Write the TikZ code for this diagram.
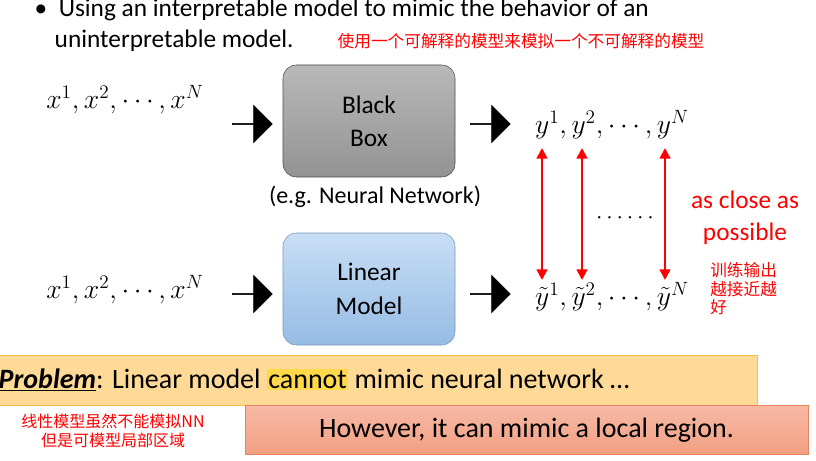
\documentclass[tikz,border=0pt]{standalone}
\usepackage{fontspec}
\setmainfont{Carlito}
\newfontfamily\cjk{Noto Sans CJK SC}
\usetikzlibrary{arrows.meta,shapes.arrows}
\definecolor{redt}{HTML}{FF0000}
\definecolor{probfill}{RGB}{255,218,150}
\definecolor{probdraw}{RGB}{250,190,70}
\definecolor{hl}{RGB}{255,217,74}
\definecolor{hwdraw}{RGB}{232,130,95}
\definecolor{hwtop}{RGB}{246,185,165}
\definecolor{hwbot}{RGB}{242,160,130}
\definecolor{lmtop}{RGB}{200,222,245}
\definecolor{lmbot}{RGB}{150,188,228}
\definecolor{lmdraw}{RGB}{120,150,190}
\begin{document}
\begin{tikzpicture}[x=0.75pt,y=-0.75pt,
  fat/.style={single arrow,fill=black,draw=black,minimum width=28pt,single arrow head extend=5pt,minimum height=30pt,inner sep=0pt},
  box/.style={rounded corners=10pt,minimum width=129pt,minimum height=84pt,align=center,font=\fontsize{19}{25}\selectfont},
  dbl/.style={red,line width=1.8pt,{Triangle[length=8pt,width=8pt]}-{Triangle[length=8pt,width=8pt]}},
  mt/.style={font=\fontsize{20}{24}\selectfont}]
\useasboundingbox (0,0) rectangle (816,460);
\node[anchor=west,font=\fontsize{19}{22}\selectfont] (b1) at (30,10) {\textbullet\ \ Using an interpretable model to mimic the behavior of an};
\node[anchor=west,font=\fontsize{19}{22}\selectfont] (b2) at (50,41) {uninterpretable model.};
\node[anchor=west,text=redt,font=\cjk\fontsize{12.5}{14}\selectfont] (b3) at (333,41) {使用一个可解释的模型来模拟一个不可解释的模型};
% top row
\node[mt] (x1) at (125,100) {$x^1,x^2,\cdots,x^N$};
\node[fat] (a1) at (252,124) {};
\node[box,draw=black!70,top color=gray!55,bottom color=gray!85] (bb) at (369,121) {Black\\Box};
\node[fat] (a2) at (490,124) {};
\node[mt] (y1) at (612,125) {$y^1,y^2,\cdots,y^N$};
\node[font=\fontsize{18}{22}\selectfont] (eg) at (375,197) {(e.g. Neural Network)};
% bottom row
\node[mt] (x2) at (125,290) {$x^1,x^2,\cdots,x^N$};
\node[fat] (a3) at (252,294) {};
\node[box,draw=lmdraw,top color=lmtop,bottom color=lmbot] (lm) at (369,289) {Linear\\Model};
\node[fat] (a4) at (490,294) {};
\node[mt] (y2) at (612,297) {$\tilde y^1,\tilde y^2,\cdots,\tilde y^N$};
\coordinate (t1) at (542,148); \coordinate (s1) at (542,280);
\coordinate (t2) at (582,148); \coordinate (s2) at (582,280);
\coordinate (t3) at (665,148); \coordinate (s3) at (665,280);
\draw[dbl] (t1) -- (s1); \draw[dbl] (t2) -- (s2); \draw[dbl] (t3) -- (s3);
\node[font=\fontsize{16}{18}\selectfont] (dots) at (625,218) {$\cdots\cdots$};
\node[text=redt,align=center,font=\fontsize{19}{24}\selectfont] (close) at (745,218) {as close as\\possible};
\node[text=redt,align=left,anchor=north west,inner sep=0pt,font=\cjk\fontsize{12.5}{14}\selectfont] (zh) at (710,262) {训练输出\\越接近越\\好};
% problem box
\filldraw[fill=probfill,draw=probdraw] (-5,355) rectangle (757,405);
\node[anchor=west,font=\fontsize{21}{24}\selectfont] (pr) at (-6,380) {\underline{\textbf{\textit{Problem}}}: Linear model {\setlength\fboxsep{1pt}\colorbox{hl}{cannot}} mimic neural network \dots};
\node[text=redt,align=center,font=\cjk\fontsize{12}{14}\selectfont] (zh2) at (113,431) {线性模型虽然不能模拟NN\\但是可模型局部区域};
\node[draw=hwdraw,top color=hwtop,bottom color=hwbot,minimum width=422pt,minimum height=37pt,font=\fontsize{21}{24}\selectfont] (hw) at (526.5,430) {However, it can mimic a local region.};
\end{tikzpicture}
\end{document}
